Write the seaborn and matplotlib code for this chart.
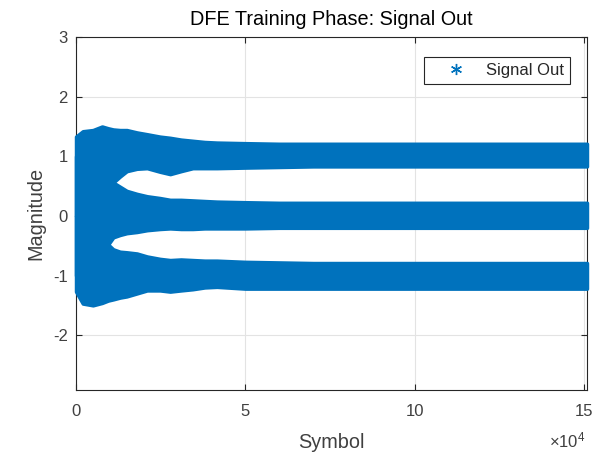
import pandas as pd
import matplotlib
matplotlib.use("Agg")
import matplotlib.pyplot as plt
from matplotlib.lines import Line2D
from matplotlib.ticker import FuncFormatter
import seaborn as sns

# Envelope of the equalizer output cloud: for each decision level, the
# upper and lower extent of the received symbols along the training run.
symbol = [0, 2000, 5000, 7700, 9500, 11000, 13000, 15000, 18000, 21000,
          24800, 27800, 31000, 34500, 38000, 41600, 50000, 60000, 70000,
          80000, 90000, 100000, 110000, 120000, 130000, 140000, 150900]

level_p1_high = [1.33, 1.42, 1.44, 1.50, 1.47, 1.45, 1.44, 1.44, 1.40, 1.37,
                 1.33, 1.31, 1.28, 1.26, 1.24, 1.23, 1.22, 1.21, 1.21,
                 1.21, 1.21, 1.21, 1.21, 1.21, 1.21, 1.21, 1.21]
level_p1_low = [0.00, 0.05, 0.15, 0.30, 0.45, 0.56, 0.66, 0.75, 0.79, 0.80,
                0.74, 0.70, 0.75, 0.80, 0.80, 0.80, 0.81, 0.82, 0.83,
                0.83, 0.83, 0.83, 0.83, 0.83, 0.83, 0.83, 0.83]

level_0_high = [1.00, 1.00, 0.95, 0.80, 0.65, 0.56, 0.49, 0.42, 0.37, 0.33,
                0.30, 0.27, 0.27, 0.26, 0.25, 0.24, 0.23, 0.22, 0.22,
                0.22, 0.22, 0.22, 0.22, 0.22, 0.22, 0.22, 0.22]
level_0_low = [-1.00, -1.00, -0.95, -0.80, -0.48, -0.36, -0.32, -0.29, -0.27, -0.24,
               -0.22, -0.21, -0.22, -0.22, -0.21, -0.21, -0.21, -0.20, -0.20,
               -0.20, -0.20, -0.20, -0.20, -0.20, -0.20, -0.20, -0.20]

level_m1_high = [0.00, -0.05, -0.15, -0.30, -0.48, -0.56, -0.60, -0.61, -0.63, -0.68,
                 -0.72, -0.74, -0.73, -0.74, -0.75, -0.75, -0.77, -0.78, -0.79,
                 -0.79, -0.79, -0.79, -0.79, -0.79, -0.79, -0.79, -0.79]
level_m1_low = [-1.27, -1.47, -1.50, -1.46, -1.42, -1.40, -1.37, -1.35, -1.30, -1.25,
                -1.25, -1.27, -1.25, -1.23, -1.20, -1.19, -1.22, -1.22, -1.22,
                -1.22, -1.22, -1.22, -1.22, -1.22, -1.22, -1.22, -1.22]

x_ticks = [0, 50000, 100000, 150000]
y_ticks = [-2, -1, 0, 1, 2, 3]
x_limits = (0, 150900)
y_limits = (-2.92, 3.0)

blue = "#0072BD"
dark = "#262626"
tick_gray = "#404040"

sns.set_theme(style="white")
plt.rcParams["font.family"] = ["Liberation Sans", "DejaVu Sans"]
plt.rcParams["axes.unicode_minus"] = False
plt.rcParams["mathtext.fontset"] = "custom"
plt.rcParams["mathtext.rm"] = "Liberation Sans"
plt.rcParams["mathtext.it"] = "Liberation Sans:italic"

frames = []
for name, hi, lo in [("+1", level_p1_high, level_p1_low),
                     ("0", level_0_high, level_0_low),
                     ("-1", level_m1_high, level_m1_low)]:
    frames.append(pd.DataFrame({"symbol": symbol, "magnitude": hi, "level": name}))
    frames.append(pd.DataFrame({"symbol": symbol, "magnitude": lo, "level": name}))
df = pd.concat(frames, ignore_index=True)

fig = plt.figure(figsize=(6.11, 4.53), dpi=100)
ax = fig.add_axes([0.1244, 0.139, 0.8363, 0.7793])

# min..max band per level drawn as seaborn error bands
sns.lineplot(data=df, x="symbol", y="magnitude", hue="level",
             palette=[blue, blue, blue], estimator="mean",
             errorbar=("pi", 100), legend=False, linewidth=0,
             err_kws={"alpha": 1.0, "edgecolor": blue, "linewidth": 2.5,
                      "clip_on": False, "zorder": 3},
             ax=ax)

ax.set_xlim(*x_limits)
ax.set_ylim(*y_limits)
ax.set_xticks(x_ticks)
ax.set_yticks(y_ticks)
ax.xaxis.set_major_formatter(FuncFormatter(lambda v, p: f"{v / 1e4:g}"))
ax.grid(True, color="#e3e3e3", linewidth=0.8)
ax.set_axisbelow(True)

for side in ["left", "right", "top", "bottom"]:
    ax.spines[side].set_visible(True)
    ax.spines[side].set_color(dark)
    ax.spines[side].set_linewidth(0.8)

ax.tick_params(axis="both", which="major", direction="in", length=4,
               width=0.8, color=dark, labelcolor=tick_gray, labelsize=12,
               top=True, right=True, bottom=True, left=True)
ax.tick_params(axis="x", pad=10)
ax.tick_params(axis="y", pad=6)

ax.set_title("DFE Training Phase: Signal Out", fontsize=14.3, color="black", pad=9)
ax.set_xlabel("Symbol", fontsize=14.3, color=tick_gray, labelpad=10)
ax.set_ylabel("Magnitude", fontsize=14.3, color=tick_gray, labelpad=5)

# exponent of the x tick labels
ax.text(0.997, -0.115, r"$\times\mathregular{10^{4}}$", transform=ax.transAxes,
        ha="right", va="top", fontsize=12, color=tick_gray)

proxy = Line2D([], [], linestyle="none", marker=(6, 2, 0), markersize=8,
               markeredgewidth=1.0, color=blue)
leg = ax.legend([proxy], ["Signal Out"], loc="upper right",
                bbox_to_anchor=(0.967, 0.943), fontsize=12, frameon=True,
                fancybox=False, framealpha=1.0, edgecolor=dark,
                handlelength=3.2, handletextpad=0.2, borderpad=0.35,
                borderaxespad=0.0)
leg.get_frame().set_linewidth(0.8)
for t in leg.get_texts():
    t.set_color(dark)

fig.savefig("out.png", dpi=100)
